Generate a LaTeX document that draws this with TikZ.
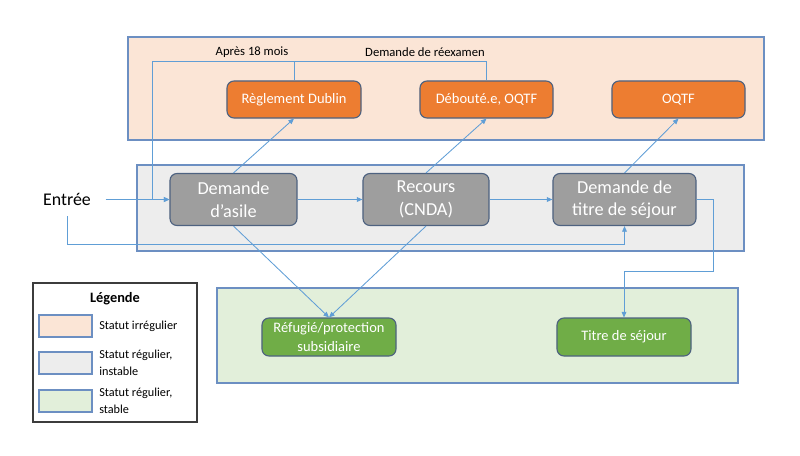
\documentclass[tikz,border=0pt]{standalone}
\usepackage{fontspec}
\setmainfont{Carlito}
\usepackage{tikz}
\usetikzlibrary{arrows.meta,positioning,calc}
\definecolor{bandPink}{RGB}{251,229,214}
\definecolor{bandGrey}{RGB}{237,237,237}
\definecolor{bandGreen}{RGB}{226,239,218}
\definecolor{edgeBlue}{RGB}{108,143,194}
\definecolor{flowBlue}{RGB}{96,158,214}
\definecolor{rimBlue}{RGB}{78,98,128}
\definecolor{boxOrange}{RGB}{237,125,49}
\definecolor{boxGrey}{RGB}{158,158,158}
\definecolor{boxGreen}{RGB}{112,173,71}
\definecolor{legFrame}{RGB}{60,60,60}
\newcommand{\legendrow}[4]{%
  \filldraw[fill=#2, draw=edgeBlue, line width=0.8pt] (39,#3) rectangle (92,#3+22);
  \node[legtext] (#1) at (99,#3+11) {#4};
}

\begin{document}
\begin{tikzpicture}[x=0.025cm,y=-0.025cm,
    band/.style={draw=edgeBlue, line width=0.8pt},
    box/.style={draw=rimBlue, line width=0.8pt, rounded corners=5pt, text=white, align=center, inner sep=0pt, minimum height=0.925cm, font=\fontsize{10.3}{13.5}\selectfont},
    midbox/.style={box, fill=boxGrey, minimum height=1.3cm, font=\fontsize{13}{16}\selectfont},
    flow/.style={flowBlue, line width=0.6pt, -{Triangle[length=4pt,width=3.4pt]}},
    link/.style={flowBlue, line width=0.6pt},
    lab/.style={font=\fontsize{9}{11}\selectfont, inner sep=1pt},
    legtext/.style={anchor=west, align=left, inner sep=0pt, font=\fontsize{8.7}{12}\selectfont}]
  \useasboundingbox (0,0) rectangle (800,455);
  \filldraw[band, fill=bandPink] (128,37) rectangle (764,140);
  \filldraw[band, fill=bandGrey] (137,165) rectangle (744,251);
  \filldraw[band, fill=bandGreen] (217,288) rectangle (738,383);

  \node[box, fill=boxOrange, minimum width=3.35cm] (dublin) at (294,99.5) {Règlement Dublin};
  \node[box, fill=boxOrange, minimum width=3.325cm] (debout) at (486.5,99.5) {Débouté.e, OQTF};
  \node[box, fill=boxOrange, minimum width=3.325cm] (oqtf) at (678.5,99.5) {OQTF};
  \node[midbox, minimum width=3.175cm] (asile) at (233.5,199.5) {Demande\\d’asile};
  \node[midbox, minimum width=3.15cm] (recours) at (426,199.5) {Recours\\(CNDA)};
  \node[midbox, minimum width=3.575cm] (titre) at (624.5,199.5) {Demande de\\titre de séjour};
  \node[box, fill=boxGreen, minimum width=3.35cm, minimum height=0.95cm] (refugie) at (329,337) {Réfugié/protection\\subsidiaire};
  \node[box, fill=boxGreen, minimum width=3.35cm, minimum height=0.95cm] (sejour) at (624,337) {Titre de séjour};
  \node[font=\fontsize{12.7}{15}\selectfont] (entree) at (67,199.5) {Entrée};
  \node[lab] (apres) at (252,52) {Après 18 mois};
  \node[lab] (reexamen) at (425,52) {Demande de réexamen};

  \coordinate (topline) at (152,61);
  \coordinate (drop) at (713,271);
  \draw[link] (dublin.north) -- (dublin.north |- topline);
  \draw[flow] (debout.north) |- (topline) |- (asile.west);
  \draw[flow, shorten <=7pt] (entree.east) -- (asile.west);
  \draw[flow] (asile) -- (recours);
  \draw[flow] (recours) -- (titre);
  \draw[flow, shorten <=4pt] (entree.south) |- ($(titre.south)+(0,18)$) -- (titre.south);
  \draw[flow] (titre.east) -| (drop) -| (sejour.north);
  \draw[flow] (asile.north) -- (dublin.south);
  \draw[flow] (recours.north) -- (debout.south);
  \draw[flow] (titre.north) -- (oqtf.south);
  \draw[flow] (asile.south) -- (refugie.north);
  \draw[flow] (recours.south) -- (refugie.north);

  \draw[legFrame, line width=1pt] (33,283) rectangle (197,422);
  \node[font=\fontsize{10.2}{12}\selectfont\bfseries] (legende) at (115,299) {Légende};
  \legendrow{legIrr}{bandPink}{315}{Statut irrégulier}
  \legendrow{legInst}{bandGrey}{352}{Statut régulier,\\instable}
  \legendrow{legStab}{bandGreen}{390}{Statut régulier,\\stable}
\end{tikzpicture}
\end{document}
